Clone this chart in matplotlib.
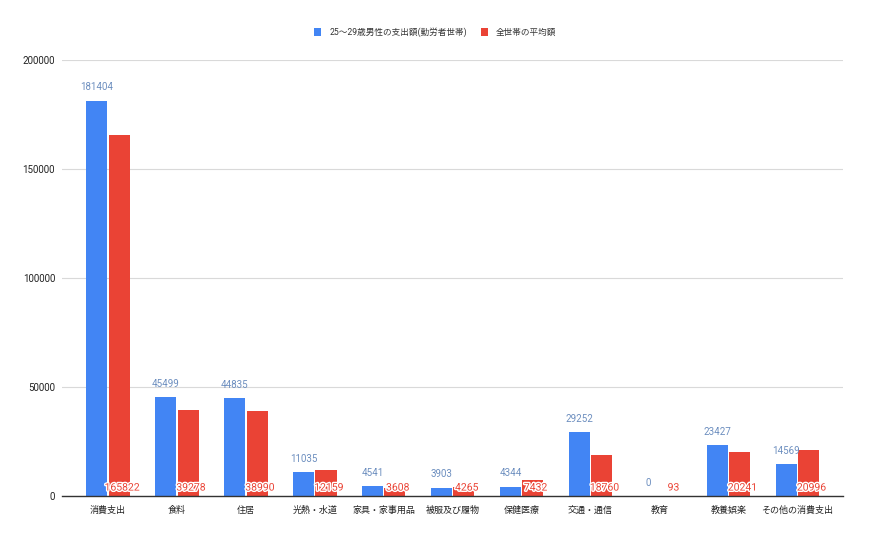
import matplotlib.pyplot as plt
import matplotlib.patheffects as pe
import numpy as np

plt.rcParams['font.family'] = ['Roboto', 'Noto Sans CJK JP', 'DejaVu Sans']

# data
categories = ['消費支出', '食料', '住居', '光熱・水道', '家具・家事用品', '被服及び履物',
              '保健医療', '交通・通信', '教育', '教養娯楽', 'その他の消費支出']
young_male = [181404, 45499, 44835, 11035, 4541, 3903, 4344, 29252, 0, 23427, 14569]
all_avg = [165822, 39278, 38990, 12159, 3608, 4265, 7432, 18760, 93, 20241, 20996]
series_names = ['25〜29歳男性の支出額(勤労者世帯)', '全世帯の平均額']

blue = '#4285F4'
red = '#EA4335'

fig = plt.figure(figsize=(8.7, 5.38), dpi=100)
ax = fig.add_axes([0.0713, 0.078, 0.898, 0.81])

x = np.arange(len(categories))
w = 0.305
b1 = ax.bar(x - w/2 - 0.01, young_male, w, color=blue, label=series_names[0], zorder=3)
b2 = ax.bar(x + w/2 + 0.01, all_avg, w, color=red, label=series_names[1], zorder=3)

# blue labels above bars
for xi, v in zip(x - w/2 - 0.01, young_male):
    ax.annotate(str(v), (xi, v), xytext=(0, 6), textcoords='offset points',
                ha='center', va='bottom', fontsize=7, color='#6c8ebf', zorder=5)

# red labels at base of bars with white outline
for xi, v in zip(x + w/2 + 0.01, all_avg):
    ax.annotate(str(v), (xi, 0), xytext=(2, 2.5), textcoords='offset points',
                ha='center', va='bottom', fontsize=7.5, color=red, zorder=5,
                path_effects=[pe.withStroke(linewidth=2, foreground='white')])

ax.set_xlim(-0.667, 10.667)
ax.set_ylim(0, 200000)
ax.set_yticks([0, 50000, 100000, 150000, 200000])
ax.set_yticklabels(['0', '50000', '100000', '150000', '200000'])
ax.set_xticks(x)
ax.set_xticklabels(categories)
ax.tick_params(axis='both', length=0, labelsize=7, colors='#222222')
ax.tick_params(axis='x', pad=7, labelsize=6.5)
ax.tick_params(axis='y', pad=5)

ax.grid(axis='y', color='#d9d9d9', linewidth=0.8, zorder=0)
for s in ['top', 'right', 'left']:
    ax.spines[s].set_visible(False)
ax.spines['bottom'].set_color('#333333')
ax.spines['bottom'].set_linewidth(1)
ax.spines['bottom'].set_zorder(4)

fig.legend(handles=[b1, b2], labels=series_names, loc='center', bbox_to_anchor=(0.5, 0.94),
           ncol=2, frameon=False, fontsize=6.2, handlelength=0.9, handleheight=0.9,
           columnspacing=1.6, handletextpad=0.9, labelcolor='#333333')

fig.savefig('out.png', dpi=100)
